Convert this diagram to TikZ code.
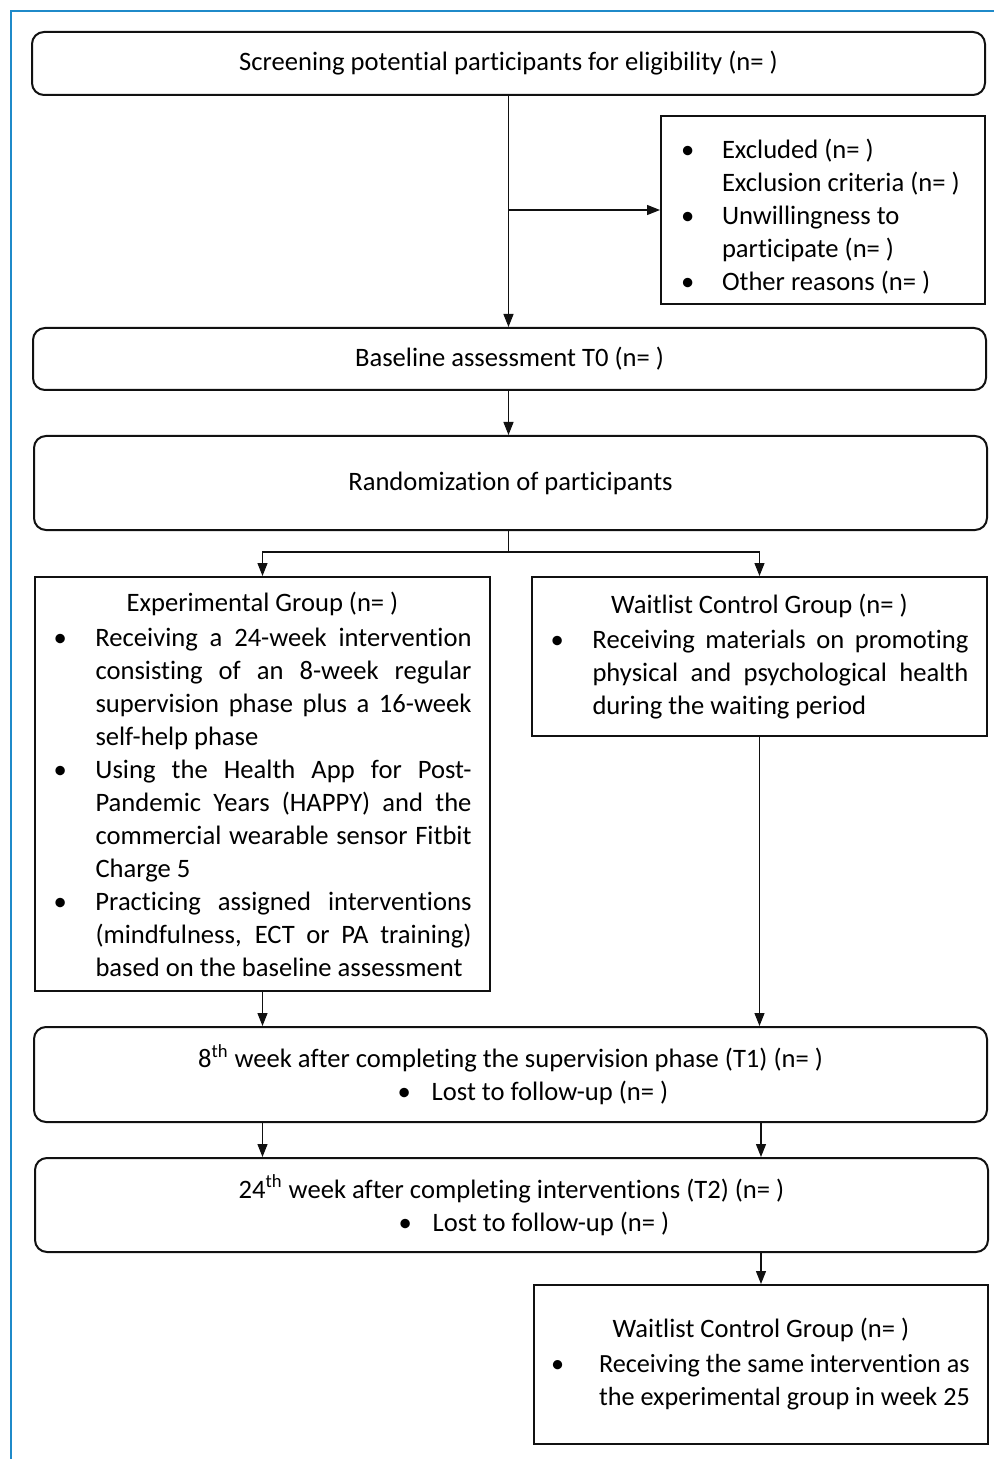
\documentclass[tikz,border=0pt]{standalone}
\usepackage{fontspec}
\setmainfont{Carlito}[Ligatures=NoCommon]
\usepackage{tikz}
\usepackage{xcolor}
\usetikzlibrary{arrows.meta,positioning}
\definecolor{frameblue}{HTML}{1F8AC9}
\definecolor{flowblack}{HTML}{111111}
\newcommand{\flowitem}[2]{\par\noindent\hangindent=#1\hangafter=1\makebox[#1][l]{\textbullet}#2\par}
\newcommand{\flowtitle}[1]{{\centering #1\par}\vspace{1pt}}
\newcommand{\nextline}{\hfil\break}
\newcommand{\flowsetup}{\parindent=0pt\leftskip=0pt\rightskip=0pt\spaceskip=0pt\xspaceskip=0pt\parfillskip=0pt plus 1fil\hyphenpenalty=10000\relax}

\begin{document}
\begin{tikzpicture}[
  x=0.5pt, y=-0.5pt,
  every node/.style={font=\fontsize{13.3}{16.5}\selectfont},
  roundbox/.style={draw=flowblack, line width=1pt, rounded corners=6pt, fill=white, minimum width=476.5pt, inner sep=0pt, align=center},
  listbox/.style={draw=flowblack, line width=1pt, fill=white, inner sep=0pt, execute at begin node=\flowsetup},
  line/.style={-{Triangle[length=6.5pt, width=5pt]}, line width=0.6pt, draw=flowblack}
]
\useasboundingbox (0,0) rectangle (994,1459);
\draw[frameblue, line width=1pt] (11,1459) -- (11,11) -- (994,11);

\node[roundbox, minimum height=31.5pt] (screen) at (508.5,63.5) {Screening potential participants for eligibility (n= )};
\node[listbox, minimum width=162pt, minimum height=94pt, text width=142pt] (excluded) at (823,210) {%
\flowitem{20.5pt}{Excluded (n= )\nextline Exclusion criteria (n= )}%
\flowitem{20.5pt}{Unwillingness to\nextline participate (n= )}%
\flowitem{20.5pt}{Other reasons (n= )}};
\node[roundbox, minimum height=31pt] (baseline) at (509.5,359) {Baseline assessment T0 (n= )};
\node[roundbox, minimum height=47pt] (random) at (510.5,483) {Randomization of participants};
\node[listbox, minimum width=227.5pt, minimum height=207pt, text width=209pt] (experimental) at (262.5,784) {%
\flowtitle{Experimental Group (n= )}%
\flowitem{21pt}{Receiving a 24-week intervention\linebreak consisting of an 8-week regular\linebreak supervision phase plus a 16-week\linebreak self-help phase}%
\flowitem{21pt}{Using the Health App for Post-\linebreak Pandemic Years (HAPPY) and the\linebreak commercial wearable sensor Fitbit\linebreak Charge 5}%
\flowitem{21pt}{Practicing assigned interventions\linebreak (mindfulness, ECT or PA training)\linebreak based on the baseline assessment}};
\node[listbox, minimum width=227.5pt, minimum height=79.5pt, text width=209pt] (waitlist) at (759.5,656.5) {%
\flowtitle{Waitlist Control Group (n= )}%
\flowitem{21pt}{Receiving materials on promoting\linebreak physical and psychological health\linebreak during the waiting period}};
\node[roundbox, minimum height=47.5pt] (followone) at (510.5,1074.5) {8\textsuperscript{th} week after completing the supervision phase (T1) (n= )\\
\hspace*{22.5pt}\makebox[17pt][l]{\textbullet}Lost to follow-up (n= )};
\node[roundbox, minimum height=47pt] (followtwo) at (511.5,1205) {24\textsuperscript{th} week after completing interventions (T2) (n= )\\
\hspace*{22.5pt}\makebox[17pt][l]{\textbullet}Lost to follow-up (n= )};
\node[listbox, minimum width=227pt, minimum height=79.5pt, text width=210pt] (waitlater) at (761,1364.5) {%
\flowtitle{Waitlist Control Group (n= )}%
{\fontsize{13.1}{16.5}\selectfont\flowitem{24pt}{Receiving the same intervention as\nextline the experimental group in week 25}}};

\draw[line] (screen.south) -- (screen.south |- baseline.north);
\draw[line] (screen.south |- excluded.west) -- (excluded.west);
\draw[line] (screen.south |- baseline.south) -- (screen.south |- random.north);
\draw[line] (screen.south |- random.south) -- ++(0,21) coordinate (split) -| (experimental.north);
\draw[line] (split) -| (waitlist.north);
\draw[line] (experimental.south) -- (experimental.south |- followone.north);
\draw[line] (waitlist.south) -- (waitlist.south |- followone.north);
\draw[line] (experimental.south |- followone.south) -- (experimental.south |- followtwo.north);
\draw[line] (waitlater.north |- followone.south) -- (waitlater.north |- followtwo.north);
\draw[line] (waitlater.north |- followtwo.south) -- (waitlater.north);
\end{tikzpicture}
\end{document}
